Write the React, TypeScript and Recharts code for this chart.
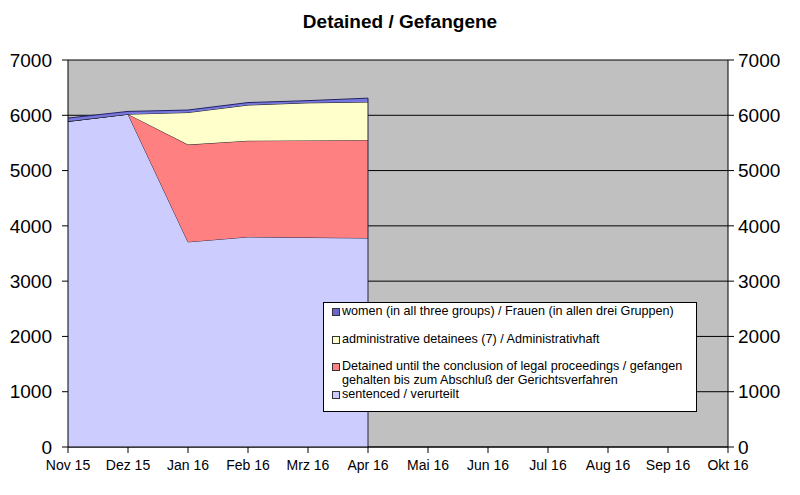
import React from "react";
import {
  AreaChart,
  Area,
  XAxis,
  YAxis,
  CartesianGrid,
  ReferenceLine,
} from "recharts";

const months = [
  "Nov 15",
  "Dez 15",
  "Jan 16",
  "Feb 16",
  "Mrz 16",
  "Apr 16",
  "Mai 16",
  "Jun 16",
  "Jul 16",
  "Aug 16",
  "Sep 16",
  "Okt 16",
];
const sentenced = [5890, 6020, 3710, 3800, 3790, 3780];
const detained = [0, 0, 1760, 1740, 1755, 1775];
const administrative = [0, 0, 580, 645, 680, 685];
const women = [60, 50, 45, 45, 40, 70];
const yTicks = [0, 1000, 2000, 3000, 4000, 5000, 6000, 7000];

const data = sentenced.map((s, i) => ({
  idx: i,
  sentenced: s,
  detained: detained[i],
  administrative: administrative[i],
  women: women[i],
}));
const last = data.length - 1;
const lastTotal =
  sentenced[last] + detained[last] + administrative[last] + women[last];

const legendItems = [
  { label: "women (in all three groups) / Frauen (in allen drei Gruppen)", color: "#6666CC" },
  { label: "administrative detainees (7) / Administrativhaft", color: "#FFFFCC" },
  {
    label:
      "Detained until the conclusion of legal proceedings / gefangen\ngehalten bis zum Abschluß der Gerichtsverfahren",
    color: "#FF8080",
  },
  { label: "sentenced / verurteilt", color: "#CCCCFF" },
];

const font = "'Liberation Sans', Arial, sans-serif";

function LegendBox() {
  return (
    <div
      style={{
        position: "absolute",
        left: 323,
        top: 302,
        background: "#fff",
        border: "1px solid #000",
        width: 374,
        height: 110,
        boxSizing: "border-box",
        padding: "1px 0 0 8px",
        fontFamily: font,
        fontSize: 12.6,
        color: "#000",
        lineHeight: "14px",
      }}
    >
      {legendItems.map((it, i) => (
        <div
          key={i}
          style={{
            display: "flex",
            alignItems: "flex-start",
            marginBottom: i === 2 ? 0 : 13.5,
            whiteSpace: "pre",
          }}
        >
          <span
            style={{
              display: "inline-block",
              width: 6,
              height: 6,
              background: it.color,
              border: "1px solid #333",
              marginTop: 4,
              marginRight: 2,
              flexShrink: 0,
            }}
          />
          <span>{it.label}</span>
        </div>
      ))}
    </div>
  );
}

export default function App() {
  return (
    <div style={{ position: "absolute", left: 0, top: 0, width: 800, height: 495, background: "#fff" }}>
      <div
        style={{
          position: "absolute",
          top: 11,
          width: 800,
          textAlign: "center",
          fontFamily: font,
          fontWeight: "bold",
          fontSize: 19,
        }}
      >
        Detained / Gefangene
      </div>
      <AreaChart
        width={800}
        height={495}
        data={data}
        margin={{ top: 60, right: 0, left: 0, bottom: 0 }}
      >
        <CartesianGrid
          vertical={false}
          stroke="#000"
          fill="#C0C0C0"
          fillOpacity={1}
          yAxisId="left"
        />
        <XAxis
          dataKey="idx"
          type="number"
          domain={[0, 11]}
          ticks={months.map((_, i) => i)}
          interval={0}
          tickFormatter={(v: number) => months[v]}
          height={48}
          stroke="#000"
          tickSize={6}
          tick={{ fill: "#000", fontSize: 14, fontFamily: font }}
          tickMargin={7}
        />
        <YAxis
          yAxisId="left"
          domain={[0, 7000]}
          ticks={yTicks}
          width={68}
          stroke="#000"
          tickSize={6}
          tickMargin={10}
          interval={0}
          tick={{ fill: "#000", fontSize: 19, fontFamily: font }}
        />
        <YAxis
          yAxisId="right"
          orientation="right"
          domain={[0, 7000]}
          ticks={yTicks}
          width={72}
          stroke="#000"
          tickSize={6}
          tickMargin={4}
          interval={0}
          tick={{ fill: "#000", fontSize: 19, fontFamily: font }}
        />
        <Area
          yAxisId="left"
          type="linear"
          dataKey="sentenced"
          stackId="1"
          fill="#CCCCFF"
          fillOpacity={1}
          stroke="#222244"
          strokeWidth={1}
          isAnimationActive={false}
        />
        <Area
          yAxisId="left"
          type="linear"
          dataKey="detained"
          stackId="1"
          fill="#FF8080"
          fillOpacity={1}
          stroke="#222222"
          strokeWidth={1}
          isAnimationActive={false}
        />
        <Area
          yAxisId="left"
          type="linear"
          dataKey="administrative"
          stackId="1"
          fill="#FFFFCC"
          fillOpacity={1}
          stroke="#222222"
          strokeWidth={1}
          isAnimationActive={false}
        />
        <Area
          yAxisId="left"
          type="linear"
          dataKey="women"
          stackId="1"
          fill="#7777DD"
          fillOpacity={1}
          stroke="#222266"
          strokeWidth={1}
          isAnimationActive={false}
        />
        {/* invisible series so the right axis gets drawn */}
        <Area
          yAxisId="right"
          type="linear"
          dataKey="sentenced"
          fill="none"
          stroke="none"
          activeDot={false}
          isAnimationActive={false}
        />
        <ReferenceLine
          yAxisId="left"
          segment={[
            { x: last, y: 0 },
            { x: last, y: lastTotal },
          ]}
          stroke="#222244"
          strokeWidth={1}
        />
      </AreaChart>
      <LegendBox />
    </div>
  );
}
